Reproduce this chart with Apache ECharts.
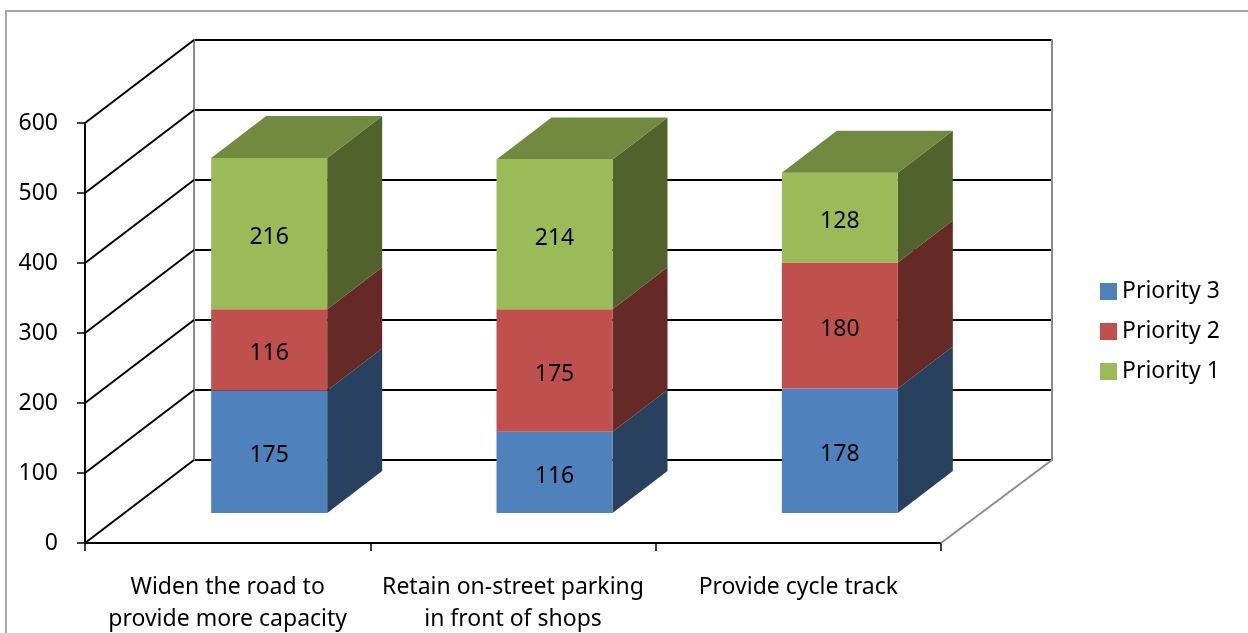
<!DOCTYPE html>
<html>
<head>
<meta charset="utf-8">
<style>
  html, body { margin: 0; padding: 0; background: #fff; }
  #chart { width: 1248px; height: 633px; }
</style>
<script src="https://cdn.jsdelivr.net/npm/echarts@6/dist/echarts.min.js"></script>
</head>
<body>
<div id="chart"></div>
<script>
const categories = [
  "Widen the road to\nprovide more capacity",
  "Retain on-street parking\nin front of shops",
  "Provide cycle track",
];
const priority3 = [175, 116, 178];
const priority2 = [116, 175, 180];
const priority1 = [216, 214, 128];
const valueTicks = [0, 100, 200, 300, 400, 500, 600];

const FONT = '"Noto Sans", sans-serif';
// how far the back wall sits behind the front plane, in px
const WALL_DX = 109;
const WALL_DY = -83;
// bar placement inside that depth
const BAR_DX = 41.5;
const BAR_DY = -30;
const BAR_W = 116;
const DEPTH_DX = 55;
const DEPTH_DY = -42;

function stacked(values, below) {
  return values.map((v, i) => {
    const base = below.reduce((sum, arr) => sum + arr[i], 0);
    return [i, base, base + v, v];
  });
}

function barRenderer(colors, showTop) {
  return function (params, api) {
    const cat = api.value(0);
    const from = api.coord([cat, api.value(1)]);
    const to = api.coord([cat, api.value(2)]);
    const x0 = from[0] + BAR_DX - BAR_W / 2;
    const x1 = x0 + BAR_W;
    const yb = from[1] + BAR_DY;
    const yt = to[1] + BAR_DY;
    const children = [
      {
        type: "polygon",
        shape: { points: [[x1, yb], [x1 + DEPTH_DX, yb + DEPTH_DY], [x1 + DEPTH_DX, yt + DEPTH_DY], [x1, yt]] },
        style: { fill: colors.side },
      },
      {
        type: "rect",
        shape: { x: x0, y: yt, width: BAR_W, height: yb - yt },
        style: { fill: colors.front },
      },
      {
        type: "text",
        style: {
          text: String(api.value(3)),
          x: (x0 + x1) / 2,
          y: (yb + yt) / 2 + 4,
          align: "center",
          verticalAlign: "middle",
          fill: "#000",
          font: "23px " + FONT,
        },
      },
    ];
    if (showTop) {
      children.push({
        type: "polygon",
        shape: { points: [[x0, yt], [x1, yt], [x1 + DEPTH_DX, yt + DEPTH_DY], [x0 + DEPTH_DX, yt + DEPTH_DY]] },
        style: { fill: colors.top },
      });
    }
    return { type: "group", children: children };
  };
}

function barSeries(name, data, colors, showTop) {
  return {
    name: name,
    type: "custom",
    xAxisIndex: 0,
    yAxisIndex: 0,
    z: 5,
    itemStyle: { color: colors.front },
    encode: { x: 0, y: [1, 2] },
    data: data,
    renderItem: barRenderer(colors, showTop),
  };
}

const myChart = echarts.init(document.getElementById("chart"));
const option = {
  animation: false,
  backgroundColor: "#fff",
  textStyle: { fontFamily: FONT },
  graphic: [
    {
      type: "rect",
      z: -1,
      shape: { x: 6, y: 11, width: 1400, height: 800 },
      style: { fill: "none", stroke: "#a6a6a6", lineWidth: 2 },
    },
  ],
  legend: {
    data: ["Priority 3", "Priority 2", "Priority 1"],
    orient: "vertical",
    left: 1095,
    top: 275,
    itemWidth: 17,
    itemHeight: 17,
    itemGap: 17,
    icon: "rect",
    textStyle: { color: "#000", fontSize: 23, fontFamily: FONT },
  },
  grid: [
    { left: 85, top: 123, width: 856, height: 420, outerBoundsMode: "none" },
    { left: 194, top: 40, width: 858, height: 420, outerBoundsMode: "none" },
  ],
  xAxis: [
    {
      type: "category",
      gridIndex: 0,
      data: categories,
      axisLine: { lineStyle: { color: "#000", width: 2 } },
      axisTick: { show: true, length: 8, lineStyle: { color: "#000", width: 1.5 } },
      axisLabel: { color: "#000", fontSize: 23, margin: 28, lineHeight: 32, interval: 0 },
    },
    {
      type: "category",
      gridIndex: 1,
      data: categories,
      show: false,
    },
  ],
  yAxis: [
    {
      type: "value",
      gridIndex: 0,
      min: 0,
      max: 600,
      interval: 100,
      axisLine: { show: true, lineStyle: { color: "#000", width: 2 } },
      axisTick: { show: true, length: 8, lineStyle: { color: "#000", width: 1.5 } },
      axisLabel: { color: "#000", fontSize: 23, margin: 27, padding: [10, 0, 0, 0] },
      splitLine: { show: false },
    },
    {
      type: "value",
      gridIndex: 1,
      min: 0,
      max: 600,
      interval: 100,
      axisLine: { show: true, lineStyle: { color: "#8c8c8c", width: 2 } },
      axisTick: { show: false },
      axisLabel: { show: false },
      splitLine: { show: true, lineStyle: { color: "#000", width: 2 } },
    },
    {
      type: "value",
      gridIndex: 1,
      position: "right",
      min: 0,
      max: 600,
      interval: 100,
      axisLine: { show: true, onZero: false, lineStyle: { color: "#8c8c8c", width: 2 } },
      axisTick: { show: false },
      axisLabel: { show: false },
      splitLine: { show: false },
    },
  ],
  series: [
    {
      // left wall: one diagonal per tick
      type: "custom",
      xAxisIndex: 0,
      yAxisIndex: 0,
      silent: true,
      z: 1,
      data: valueTicks.map((v) => [0, v]),
      renderItem: function (params, api) {
        const p = api.coord([0, api.value(1)]);
        const x = p[0] - api.size([1, 0])[0] / 2;
        return {
          type: "line",
          shape: { x1: x, y1: p[1], x2: x + WALL_DX, y2: p[1] + WALL_DY },
          style: { stroke: "#000", lineWidth: 2 },
        };
      },
    },
    {
      // floor edge on the right
      type: "custom",
      xAxisIndex: 0,
      yAxisIndex: 0,
      silent: true,
      z: 1,
      data: [[categories.length - 1, 0]],
      renderItem: function (params, api) {
        const p = api.coord([api.value(0), api.value(1)]);
        const x = p[0] + api.size([1, 0])[0] / 2;
        return {
          type: "line",
          shape: { x1: x, y1: p[1], x2: x + WALL_DX + 2, y2: p[1] + WALL_DY },
          style: { stroke: "#8c8c8c", lineWidth: 2 },
        };
      },
    },
    barSeries("Priority 3", stacked(priority3, []), { front: "#4f81bd", side: "#27415f" }, false),
    barSeries("Priority 2", stacked(priority2, [priority3]), { front: "#c0504d", side: "#652926" }, false),
    barSeries("Priority 1", stacked(priority1, [priority3, priority2]), { front: "#9bbb59", side: "#52622c", top: "#728a40" }, true),
  ],
};
myChart.setOption(option);
</script>
</body>
</html>
